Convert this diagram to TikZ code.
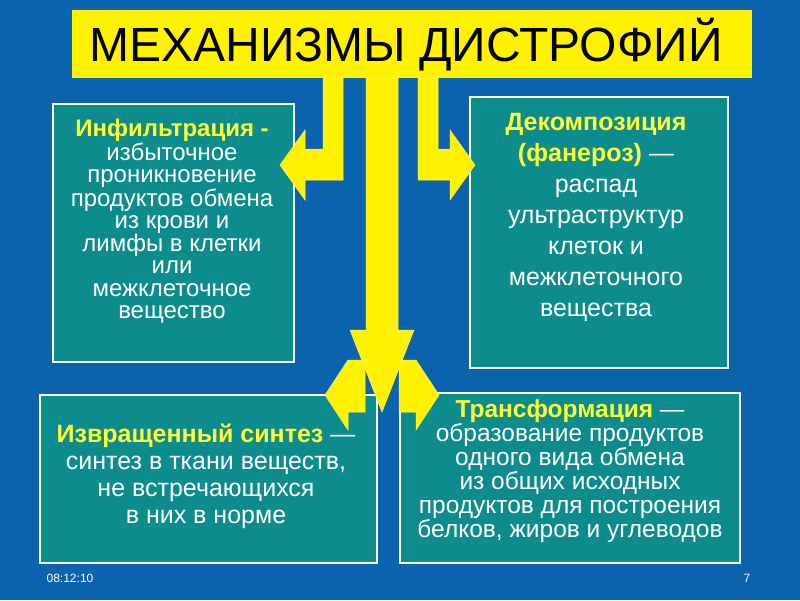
\documentclass[tikz,border=0pt]{standalone}
\usepackage{fontspec}
\setmainfont{Liberation Sans}
\begin{document}
\begin{tikzpicture}[x=1pt,y=-1pt,
  box/.style={draw=white,line width=2.5pt,fill=teal0},
  txt/.style={text=white,align=center,inner sep=0pt},
  arr/.style={fill=yellow,draw=yellow!60!white,line width=0.5pt}]
\definecolor{bg}{HTML}{0B62AD}
\definecolor{teal0}{HTML}{0C8C8C}
\definecolor{yel}{HTML}{FFFF33}
\fill[bg] (0,0) rectangle (800,600);
\useasboundingbox (0,0) rectangle (800,600);
\fill[yellow] (72,10) rectangle (752,78);
\node (title) at (406,45) {\fontsize{48}{50}\selectfont МЕХАНИЗМЫ ДИСТРОФИЙ};
\draw[box] (53,104) rectangle (294,362);
\draw[box] (470,97) rectangle (728,368);
\draw[box] (40,395) rectangle (377,563);
\draw[box] (400,393) rectangle (740,563);
\fill[arr] (343,78)--(343,180)--(305,180)--(305,200)--(280,165)--(305,130)--(305,149)--(323,149)--(323,78)--cycle;
\fill[arr] (418,78)--(418,180)--(450,180)--(450,200)--(475,165)--(450,130)--(450,149)--(438,149)--(438,78)--cycle;
\fill[arr] (348,360)--(365,360)--(365,412)--(348,412)--(348,430)--(325,395)--cycle;
\fill[arr] (416,360)--(399,360)--(399,412)--(416,412)--(416,430)--(439,395)--cycle;
\filldraw[arr] (366,78)--(398,78)--(398,330)--(414,330)--(382,412)--(350,330)--(366,330)--cycle;
\node[txt,anchor=north,font=\fontsize{24}{22.5}\selectfont] (l) at (172,119) {\textbf{\color{yel}Инфильтрация -}\\избыточное\\проникновение\\продуктов обмена\\из крови и\\лимфы в клетки\\или\\межклеточное\\вещество};
\node[txt,anchor=north,font=\fontsize{25}{31}\selectfont] (r) at (596,113) {\textbf{\color{yel}Декомпозиция}\\\textbf{\color{yel}(фанероз)} —\\распад\\ультраструктур\\клеток и\\межклеточного\\вещества};
\node[txt,anchor=north,font=\fontsize{25}{27}\selectfont] (bl) at (206,424) {\textbf{\color{yel}Извращенный синтез} —\\синтез в ткани веществ,\\не встречающихся\\в них в норме};
\node[txt,anchor=north,font=\fontsize{24.5}{24}\selectfont] (br) at (570,400) {\textbf{\color{yel}Трансформация} —\\образование продуктов\\одного вида обмена\\из общих исходных\\продуктов для построения\\белков, жиров и углеводов};
\node[text=white,font=\fontsize{12}{12}\selectfont] (t) at (70,578) {08:12:10};
\node[text=white,font=\fontsize{12}{12}\selectfont] (n) at (747,578) {7};
\end{tikzpicture}
\end{document}
